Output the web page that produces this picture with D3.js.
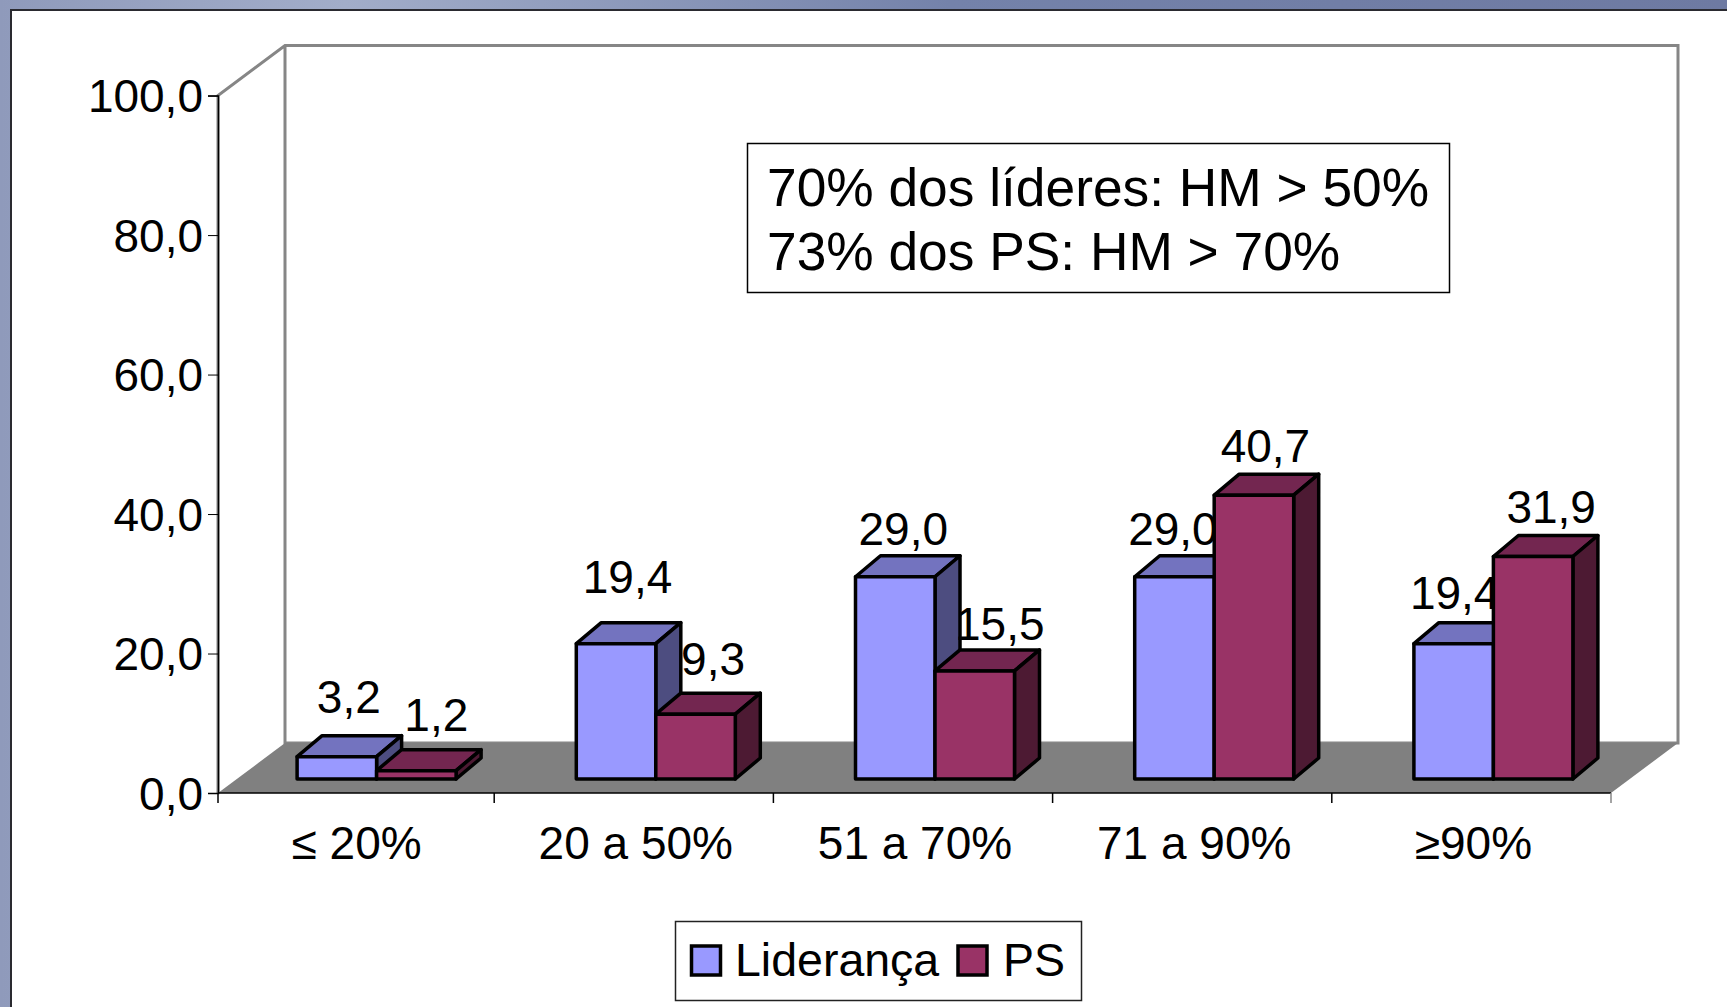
<!DOCTYPE html>
<html lang="pt">
<head>
    <meta charset="UTF-8">
    <script src="https://d3js.org/d3.v7.min.js"></script>
    <title>Lideranca e PS</title>
    <style>
        body { margin: 0; background: #fff; overflow: hidden; }
        svg { display: block; }
        text { font-family: "Liberation Sans", Arial, sans-serif; fill: #000; }
    </style>
</head>
<body>
    <div id="chart"></div>

    <script>
        const categories = ['≤ 20%', '20 a 50%', '51 a 70%', '71 a 90%', '≥90%'];
        const lideranca = [3.2, 19.4, 29.0, 29.0, 19.4];
        const ps = [1.2, 9.3, 15.5, 40.7, 31.9];
        const yTicks = [0, 20, 40, 60, 80, 100];
        const noteLines = ['70% dos líderes: HM > 50%', '73% dos PS: HM > 70%'];

        const width = 1727, height = 1007;
        const left = 218, right = 1611, top100 = 95.6, bottom = 793;
        const floorDx = 67, floorDy = 50;     // profundidade do chao
        const barDx = 25, barDy = 21;         // profundidade das barras
        const barW = 79.5, barLift = 14, barShift = 22;

        const fmt = d3.formatLocale({ decimal: ',', thousands: '.', grouping: [3], currency: ['', ''] }).format('.1f');

        // a primeira faixa do original e um pouco mais estreita
        const x = d3.scaleBand().domain(categories).range([left - 3, right]);
        const y = d3.scaleLinear().domain([0, 100]).range([bottom, top100]);

        const svg = d3.select('#chart').append('svg')
            .attr('width', width)
            .attr('height', height);

        // fundo do slide
        const grad = svg.append('defs').append('linearGradient').attr('id', 'bg');
        grad.append('stop').attr('offset', '0%').attr('stop-color', '#8f9abb');
        grad.append('stop').attr('offset', '20%').attr('stop-color', '#a2adc9');
        grad.append('stop').attr('offset', '55%').attr('stop-color', '#7482aa');
        grad.append('stop').attr('offset', '100%').attr('stop-color', '#6e7aa2');
        svg.append('rect').attr('width', width).attr('height', height).attr('fill', 'url(#bg)');
        svg.append('rect')
            .attr('x', 11).attr('y', 10)
            .attr('width', width).attr('height', height)
            .attr('fill', '#fff')
            .attr('stroke', '#2a2a30')
            .attr('stroke-width', 2);

        // parede do fundo e chao
        svg.append('path')
            .attr('d', `M${left},${y(0)}L${left},${y(100)}L${left + floorDx},${y(100) - floorDy}` +
                `L${right + floorDx},${y(100) - floorDy}L${right + floorDx},${y(0) - floorDy}L${left + floorDx},${y(0) - floorDy}` +
                `L${left + floorDx},${y(100) - floorDy}`)
            .attr('fill', 'none')
            .attr('stroke', '#868686')
            .attr('stroke-width', 3);
        svg.append('path')
            .attr('d', `M${left},${y(0)}L${left + floorDx},${y(0) - floorDy}L${right + floorDx},${y(0) - floorDy}L${right},${y(0)}Z`)
            .attr('fill', '#808080');

        // eixos
        const yAxis = svg.append('g')
            .attr('transform', `translate(${left},0)`)
            .call(d3.axisLeft(y).tickValues(yTicks).tickFormat(fmt).tickSize(10).tickPadding(5));
        yAxis.selectAll('text').attr('font-size', 46).attr('dy', '0.35em');
        yAxis.select('.domain').attr('stroke-width', 1.5);

        const xAxis = svg.append('g')
            .attr('transform', `translate(0,${bottom})`)
            .call(d3.axisBottom(x).tickSize(0).tickPadding(33));
        xAxis.selectAll('text').attr('font-size', 46).attr('dy', '0.71em').attr('dx', 2);
        xAxis.select('.domain').remove();
        xAxis.append('line')
            .attr('x1', left).attr('x2', right)
            .attr('stroke', '#000')
            .attr('stroke-width', 1.5);
        xAxis.selectAll('.edge')
            .data([left].concat(categories.slice(1).map(d => x(d)), right))
            .enter()
            .append('line')
            .attr('x1', d => d).attr('x2', d => d)
            .attr('y1', 0).attr('y2', 10)
            .attr('stroke', d => d === right ? '#868686' : '#000')
            .attr('stroke-width', 1.5);

        // barra 3D: frente, topo e lado
        function drawBar(x0, value, color, topColor, sideColor) {
            const y1 = y(0) - barLift;
            const y0 = y(value) - barLift;
            const x1 = x0 + barW;
            const g = svg.append('g')
                .attr('stroke', '#000')
                .attr('stroke-width', 3.5)
                .attr('stroke-linejoin', 'round');
            g.append('path')
                .attr('d', `M${x0},${y0}L${x0 + barDx},${y0 - barDy}L${x1 + barDx},${y0 - barDy}L${x1},${y0}Z`)
                .attr('fill', topColor);
            g.append('path')
                .attr('d', `M${x1},${y0}L${x1 + barDx},${y0 - barDy}L${x1 + barDx},${y1 - barDy}L${x1},${y1}Z`)
                .attr('fill', sideColor);
            g.append('rect')
                .attr('x', x0).attr('y', y0)
                .attr('width', barW).attr('height', y1 - y0)
                .attr('fill', color);
        }

        function barLabel(cx, value, rise) {
            svg.append('text')
                .attr('x', cx)
                .attr('y', y(value) - barLift - rise)
                .attr('text-anchor', 'middle')
                .attr('font-size', 46)
                .text(fmt(value));
        }

        // os rotulos foram movidos a mao no original
        const liderLabelDx = [12, 11.5, 8, -1.5, 1];
        const liderLabelRise = [44, 51, 32, 32, 35];
        const psLabelDx = [-5, -7.5, 0, -13.5, -7];
        const psLabelRise = [40, 39, 31, 33, 34];

        categories.forEach((c, i) => {
            const mid = x(c) + x.bandwidth() / 2 + barShift;
            drawBar(mid - barW, lideranca[i], '#9999ff', '#7373bf', '#4d4d80');
            barLabel(mid - barW / 2 + liderLabelDx[i], lideranca[i], liderLabelRise[i]);
            drawBar(mid, ps[i], '#993366', '#732650', '#4d1a33');
            barLabel(mid + barW / 2 + barDx + psLabelDx[i], ps[i], psLabelRise[i]);
        });

        // caixa de texto
        svg.append('rect')
            .attr('x', 747.5).attr('y', 143.5)
            .attr('width', 702).attr('height', 149)
            .attr('fill', '#fff')
            .attr('stroke', '#000')
            .attr('stroke-width', 1.5);
        svg.selectAll('.note')
            .data(noteLines)
            .enter()
            .append('text')
            .attr('class', 'note')
            .attr('x', 767)
            .attr('y', (d, i) => 206 + i * 64)
            .attr('font-size', 53.3)
            .text(d => d);

        // legenda
        svg.append('rect')
            .attr('x', 675.5).attr('y', 921.5)
            .attr('width', 406).attr('height', 79)
            .attr('fill', '#fff')
            .attr('stroke', '#222')
            .attr('stroke-width', 1.5);
        const legendItems = [
            { name: 'Liderança', color: '#9999ff', sx: 691.5, tx: 735 },
            { name: 'PS', color: '#993366', sx: 958, tx: 1003 }
        ];
        legendItems.forEach(d => {
            svg.append('rect')
                .attr('x', d.sx).attr('y', 946)
                .attr('width', 29).attr('height', 29)
                .attr('fill', d.color)
                .attr('stroke', '#000')
                .attr('stroke-width', 3.5);
            svg.append('text')
                .attr('x', d.tx).attr('y', 976)
                .attr('font-size', 46.5)
                .text(d.name);
        });
    </script>
</body>
</html>
